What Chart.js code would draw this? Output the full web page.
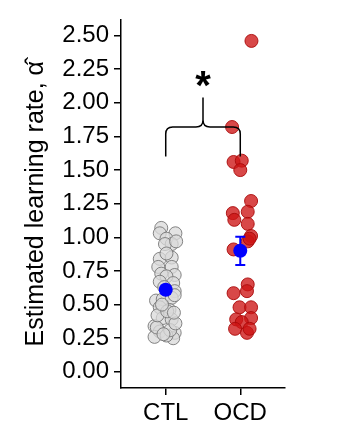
<!DOCTYPE html>
<html>
<head>
<meta charset="utf-8">
<script src="https://cdn.jsdelivr.net/npm/chart.js@4"></script>
<style>
  html, body { margin: 0; padding: 0; background: #fff; }
  canvas { display: block; }
</style>
</head>
<body>
<canvas id="chart" width="354" height="439"></canvas>
<script>
// groups on the x axis
const categories = ['CTL', 'OCD'];
const yTicks = [0, 0.25, 0.5, 0.75, 1, 1.25, 1.5, 1.75, 2, 2.25, 2.5];

// per-subject estimates (with their horizontal jitter)
const ctlValues = [1.07, 1.03, 1.03, 0.99, 0.95, 0.95, 0.97, 0.84, 0.85, 0.88, 0.78, 0.78, 0.73, 0.72, 0.71,
  0.67, 0.66, 0.60, 0.53, 0.54, 0.55, 0.48, 0.46, 0.40, 0.39, 0.34, 0.30, 0.29, 0.26, 0.25, 0.27,
  0.31, 0.33, 0.36, 0.42, 0.45, 0.50, 0.57, 0.63, 0.28, 0.44];
const ctlJitter = [-0.06, 0.13, -0.08, 0.01, 0.08, -0.01, 0.14, -0.08, 0.08, 0.01, 0.08, -0.10, -0.06, 0.12, 0.01,
  -0.08, 0.10, 0.12, -0.13, -0.04, 0.08, -0.08, 0.05, -0.04, 0.08, -0.15, -0.08, 0.12, -0.15, 0.10, 0.01,
  0.06, -0.12, 0.13, -0.11, 0.02, -0.05, 0.12, -0.02, -0.03, 0.11];

const ocdValues = [2.46, 1.82, 1.56, 1.57, 1.50, 1.27, 1.18, 1.13, 1.19, 1.10, 1.01, 0.97, 0.99, 0.91,
  0.65, 0.585, 0.60, 0.48, 0.48, 0.39, 0.40, 0.37, 0.32, 0.29, 0.32];
const ocdJitter = [0.15, -0.11, -0.09, 0.02, 0.0, 0.145, -0.10, -0.08, 0.10, 0.10, 0.145, 0.10, 0.125, -0.09,
  0.10, -0.09, 0.09, -0.01, 0.145, -0.055, 0.145, 0.02, -0.07, 0.09, 0.125];

// group means and standard errors
const means = [0.61, 0.90];
const sems = [0.03, 0.105];

// significance brace: bottom of legs, arm height, tip height, star height (data units)
const braceLevels = [1.60, 1.82, 2.04, 2.17];

const FONT = "'Liberation Sans', Arial, sans-serif";

const toPoints = (vals, jit, pos) => vals.map((v, i) => ({ x: pos + jit[i], y: v }));

const meanBars = {
  id: 'meanBars',
  afterDatasetsDraw(chart) {
    const { ctx, scales: { x, y } } = chart;
    ctx.save();
    ctx.strokeStyle = '#0000ff';
    ctx.lineWidth = 2;
    means.forEach((m, i) => {
      const px = x.getPixelForValue(i + 1);
      const top = y.getPixelForValue(m + sems[i]);
      const bot = y.getPixelForValue(m - sems[i]);
      ctx.beginPath();
      ctx.moveTo(px, top); ctx.lineTo(px, bot);
      ctx.moveTo(px - 5, top); ctx.lineTo(px + 5, top);
      ctx.moveTo(px - 5, bot); ctx.lineTo(px + 5, bot);
      ctx.stroke();
      ctx.beginPath();
      ctx.arc(px, y.getPixelForValue(m), 7, 0, Math.PI * 2);
      ctx.fillStyle = '#0000ff';
      ctx.fill();
    });
    ctx.restore();
  }
};

const brace = {
  id: 'brace',
  afterDraw(chart) {
    const { ctx, scales: { x, y } } = chart;
    const x1 = x.getPixelForValue(1), x2 = x.getPixelForValue(2), xm = (x1 + x2) / 2;
    const yb = y.getPixelForValue(braceLevels[0]);
    const ya = y.getPixelForValue(braceLevels[1]);
    const yt = y.getPixelForValue(braceLevels[2]);
    const ys = y.getPixelForValue(braceLevels[3]);
    const r = 7;
    ctx.save();
    ctx.strokeStyle = '#000';
    ctx.lineWidth = 1.5;
    ctx.beginPath();
    ctx.moveTo(x1, yb);
    ctx.lineTo(x1, ya + r);
    ctx.quadraticCurveTo(x1, ya, x1 + r, ya);
    ctx.lineTo(xm - r, ya);
    ctx.quadraticCurveTo(xm, ya, xm, ya - r);
    ctx.lineTo(xm, yt);
    ctx.moveTo(xm, ya - r);
    ctx.quadraticCurveTo(xm, ya, xm + r, ya);
    ctx.lineTo(x2 - r, ya);
    ctx.quadraticCurveTo(x2, ya, x2, ya + r);
    ctx.lineTo(x2, yb);
    ctx.stroke();
    ctx.fillStyle = '#000';
    ctx.font = 'bold 40px ' + FONT;
    ctx.textAlign = 'center';
    ctx.textBaseline = 'middle';
    ctx.fillText('*', xm, ys + 8);
    ctx.restore();
  }
};

new Chart('chart', {
  type: 'scatter',
  plugins: [meanBars, brace],
  data: {
    datasets: [
      {
        data: toPoints(ctlValues, ctlJitter, 1),
        backgroundColor: 'rgba(218,218,218,0.75)',
        borderColor: 'rgba(120,120,120,0.9)',
        borderWidth: 1,
        pointRadius: 6.5
      },
      {
        data: toPoints(ocdValues, ocdJitter, 2),
        backgroundColor: 'rgba(205,20,20,0.78)',
        borderColor: 'rgba(170,10,10,0.9)',
        borderWidth: 1,
        pointRadius: 6.5
      }
    ]
  },
  options: {
    responsive: false,
    animation: false,
    devicePixelRatio: 1,
    layout: { padding: { top: 12, right: 69, left: 0, bottom: 0 } },
    plugins: { legend: { display: false }, tooltip: { enabled: false } },
    scales: {
      x: {
        type: 'linear',
        min: 0.4,
        max: 2.6,
        afterBuildTicks: (s) => { s.ticks = categories.map((c, i) => ({ value: i + 1 })); },
        afterFit: (s) => { s.height = 51; },
        grid: { display: true, drawOnChartArea: false, drawTicks: true, tickLength: 7, color: '#000', lineWidth: 1.5 },
        border: { display: true, color: '#000', width: 1.5 },
        ticks: {
          autoSkip: false,
          maxRotation: 0,
          padding: 4,
          color: '#000',
          font: { family: FONT, size: 24 },
          callback: (v) => categories[v - 1]
        }
      },
      y: {
        type: 'linear',
        min: -0.12,
        max: 2.62,
        afterBuildTicks: (s) => { s.ticks = yTicks.map(v => ({ value: v })); },
        afterFit: (s) => { s.width = 121; },
        grid: { display: true, drawOnChartArea: false, drawTicks: true, tickLength: 7, color: '#000', lineWidth: 1.5 },
        border: { display: true, color: '#000', width: 1.5 },
        ticks: {
          padding: 5,
          color: '#000',
          font: { family: FONT, size: 24 },
          callback: (v) => v.toFixed(2)
        },
        title: {
          display: true,
          text: 'Estimated learning rate, α\u0302',
          color: '#000',
          font: { family: FONT, size: 25 },
          padding: { top: 21, bottom: 0 }
        }
      }
    }
  }
});
</script>
</body>
</html>
